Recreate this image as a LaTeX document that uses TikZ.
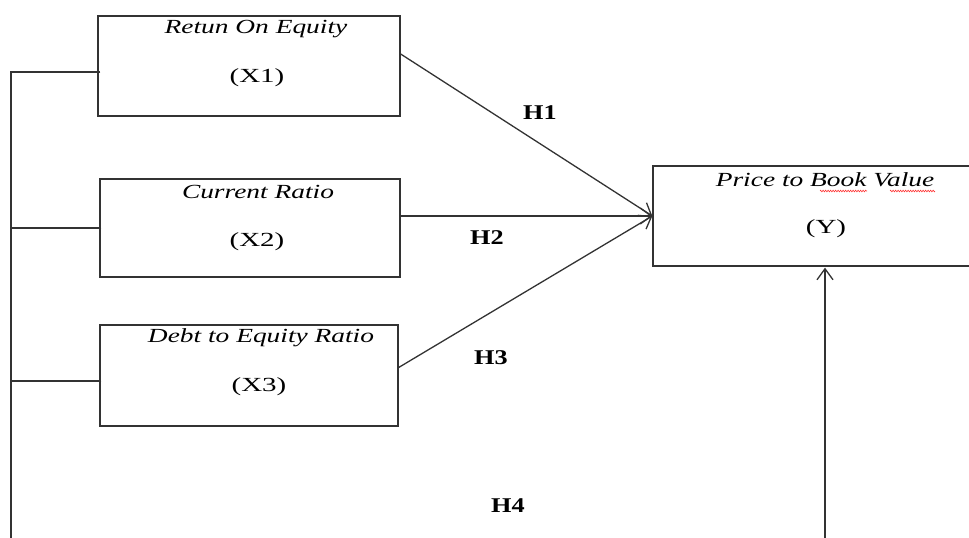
\documentclass[tikz,border=0pt]{standalone}
\usepackage{fontspec}
\setmainfont{Liberation Serif}
\usepackage{graphicx}
\usetikzlibrary{calc,arrows.meta,decorations.pathmorphing}
\newcommand{\wide}[2][1.45]{\scalebox{#1}[1]{#2}}
\tikzset{
  varbox/.style={draw=black!80, line width=1.3pt, inner sep=0pt},
  vartitle/.style={inner sep=0.75pt, font=\fontsize{20}{23}\selectfont\itshape},
  varcode/.style={inner sep=0.75pt, font=\fontsize{20}{23}\selectfont},
  hyp/.style={inner sep=0.75pt, font=\fontsize{21}{24}\selectfont\bfseries},
  link/.style={draw=black!80, line width=1.3pt},
  hyparrow/.style={link, -{Straight Barb[length=11pt,width=16pt,line width=1.3pt]}},
  spell/.style={draw=red!80, line width=0.6pt, decorate, decoration={zigzag, amplitude=0.8pt, segment length=2.5pt}}
}
\begin{document}
\begin{tikzpicture}[x=1pt,y=1pt,yscale=-1,xscale=1]
\useasboundingbox (0,0) rectangle (969,538);
\clip (0,0) rectangle (969,538);

%Shape: Rectangle [X1]
\node[varbox, minimum width=302pt, minimum height=100pt] (roe) at (249,66) {};
%Shape: Rectangle [X2]
\node[varbox, minimum width=300pt, minimum height=98pt] (cr) at (250,228) {};
%Shape: Rectangle [X3]
\node[varbox, minimum width=298pt, minimum height=101pt] (der) at (249,375.5) {};
%Shape: Rectangle [Y]
\node[varbox, minimum width=344pt, minimum height=100pt] (pbv) at (825,216) {};

% Text Node
\node[vartitle] (roeT) at (256,29) {\wide[1.37]{Retun On Equity}};
\node[varcode] (roeC) at (257,78) {\wide{(X1)}};
% Text Node
\node[vartitle] (crT) at (258,192) {\wide[1.37]{Current Ratio}};
\node[varcode] (crC) at (257,242) {\wide{(X2)}};
% Text Node
\node[vartitle] (derT) at (261,338) {\wide[1.37]{Debt to Equity Ratio}};
\node[varcode] (derC) at (259,387) {\wide{(X3)}};
% Text Node
\node[vartitle] (pbvT) at (825,180) {\wide[1.37]{Price to Book Value}};
\node[varcode] (pbvC) at (826,229) {\wide{(Y)}};
%spelling marks
\coordinate (s1) at (820,191);
\coordinate (s2) at (867,191);
\coordinate (s3) at (890,191);
\coordinate (s4) at (935,191);
\draw[spell] (s1) -- (s2);
\draw[spell] (s3) -- (s4);

%Straight Lines [left bus]
\coordinate (bus) at (11,545);
\coordinate (t1) at ($(roe.west)+(3,6)$);
\coordinate (t2) at ($(cr.west)+(2,0)$);
\coordinate (t3) at ($(der.west)+(2,5.5)$);
\draw[link] (t1) -- (t1 -| bus) -- (bus);
\draw[link] (t2) -- (t2 -| bus);
\draw[link] (t3) -- (t3 -| bus);

%Arrows
\draw[hyparrow] ($(roe.east)+(0,-12)$) -- (pbv.west);
\draw[hyparrow] ($(cr.east)+(0,-12)$) -- (pbv.west);
\draw[hyparrow] ($(der.east)+(0,-8)$) -- (pbv.west);
\coordinate (base) at (825,545);
\draw[hyparrow] (base) -- ($(pbv.south)+(0,1)$);

% Text Node
\node[hyp] (h1) at (540,113) {\wide[1.25]{H1}};
\node[hyp] (h2) at (487,238) {\wide[1.25]{H2}};
\node[hyp] (h3) at (491,358) {\wide[1.25]{H3}};
\node[hyp] (h4) at (508,506) {\wide[1.25]{H4}};

\end{tikzpicture}
\end{document}
